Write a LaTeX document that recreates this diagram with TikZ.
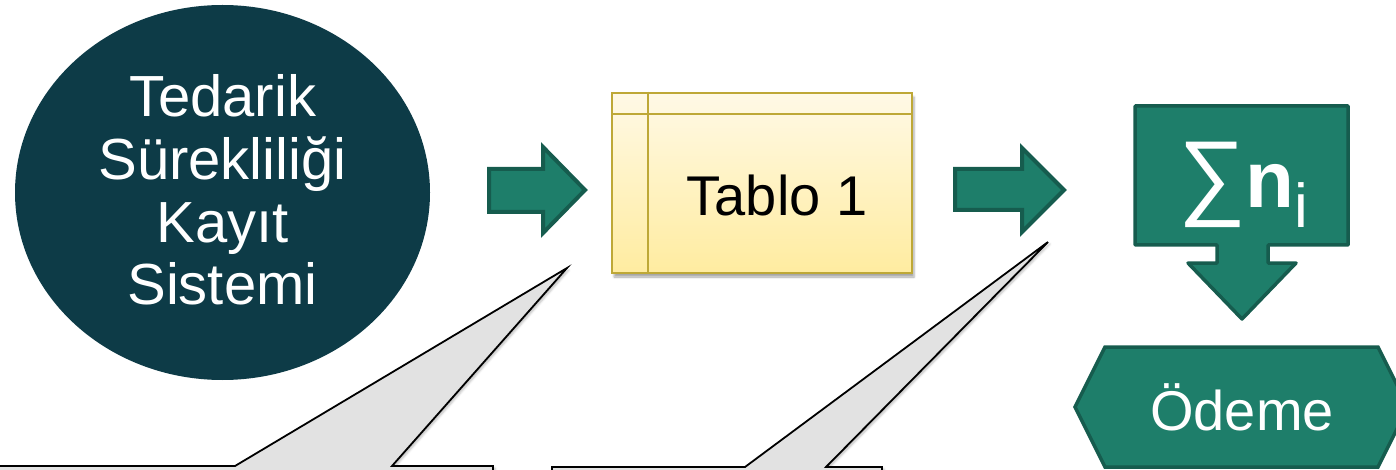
\documentclass[tikz,border=0pt]{standalone}
\usepackage{fontspec}
\setmainfont{Liberation Sans}
\usetikzlibrary{shapes.geometric,shadows.blur}
\definecolor{darkteal}{RGB}{13,59,71}
\definecolor{grfill}{RGB}{30,126,106}
\definecolor{grline}{RGB}{22,92,78}
\definecolor{tabtop}{RGB}{255,249,230}
\definecolor{tabbot}{RGB}{255,236,160}
\definecolor{tabline}{RGB}{190,168,55}
\definecolor{callgray}{RGB}{226,226,226}
\tikzset{
  big/.style={font=\fontsize{56}{62.7}\selectfont},
  blockarrow/.style={fill=grfill, draw=grline, line width=4pt, line join=miter},
  calloutshape/.style={fill=callgray, draw=black, line width=1.8pt, line join=miter,
    blur shadow={shadow xshift=2pt, shadow yshift=-2pt, shadow opacity=25}},
  tabbox/.style={draw=tabline, line width=2.5pt, top color=tabtop, bottom color=tabbot,
    minimum width=300pt, minimum height=180pt, inner sep=0pt,
    blur shadow={shadow xshift=2pt, shadow yshift=-4pt, shadow opacity=35}},
}
\begin{document}
\begin{tikzpicture}[x=1pt,y=-1pt]
\useasboundingbox (0,0) rectangle (1396,470);

% callouts (behind)
\coordinate (tipA) at (567,268);
\coordinate (tipB) at (1048,242);
\path[calloutshape] (-5,466) -- (235,466) -- (tipA) -- (392,466) -- (493,466) -- (493,520) -- (-5,520) -- cycle;
\path[calloutshape] (552,467) -- (745,467) -- (tipB) -- (826,467) -- (882,467) -- (882,520) -- (552,520) -- cycle;

% ellipse
\node[ellipse, fill=darkteal, minimum width=415pt, minimum height=375pt, inner sep=0pt] (reg) at (222.5,192.5) {};
\node[font=\fontsize{58}{62.7}\selectfont, text=white, align=center, inner sep=0pt] (regtext) at (222.5,190) {Tedarik\\Sürekliliği\\Kayıt\\Sistemi};

% arrow 1
\path[blockarrow] (489,169) -- (543,169) -- (543,147) -- (585,190) -- (543,233) -- (543,212) -- (489,212) -- cycle;

% table
\node[tabbox] (tab) at (762,183) {};
\draw[tabline, line width=2pt] ([yshift=-22pt]tab.north west) -- ([yshift=-22pt]tab.north east);
\draw[tabline, line width=2pt] ([xshift=37pt]tab.north west) -- ([xshift=37pt]tab.south west);
\node[big, anchor=base, inner sep=0pt] (tabtext) at (777,216) {Tablo 1};

% arrow 2
\path[blockarrow] (955,169) -- (1022,169) -- (1022,148) -- (1064,190) -- (1022,232) -- (1022,210) -- (955,210) -- cycle;

% sum box with down arrow
\path[fill=grfill, draw=grline, line width=3.5pt, line join=round]
  (1135,106) -- (1348,106) -- (1348,245) -- (1268,245) -- (1268,263) -- (1296,263) -- (1242,319)
  -- (1188,263) -- (1217,263) -- (1217,245) -- (1135,245) -- cycle;
\node[text=white, anchor=base west, inner sep=0pt] (sum) at (1178,208)
  {\fontsize{95}{95}\selectfont ∑\fontsize{80}{80}\selectfont\textbf{n}\fontsize{62}{62}\selectfont\raisebox{-20pt}{i}};

% payment hexagon
\path[fill=grfill, draw=grline, line width=3.5pt, line join=miter]
  (1105,347) -- (1378,347) -- (1408,407) -- (1378,467) -- (1105,467) -- (1075,407) -- cycle;
\node[big, text=white, anchor=base, inner sep=0pt] (pay) at (1242,430) {Ödeme};
\end{tikzpicture}
\end{document}
